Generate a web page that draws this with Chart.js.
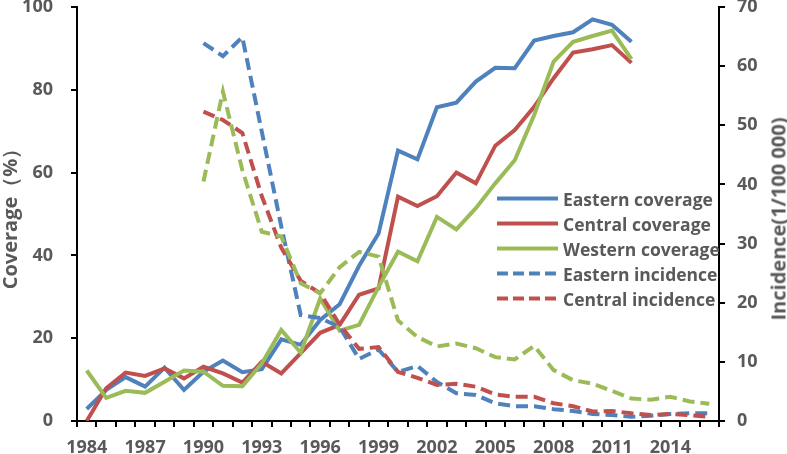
<!DOCTYPE html>
<html>
<head>
<meta charset="utf-8">
<script src="https://cdn.jsdelivr.net/npm/chart.js@4/dist/chart.umd.min.js"></script>
<style>
  body { margin: 0; background: #fff; }
  #wrap { position: relative; width: 787px; height: 454px; }
  #legend { position: absolute; left: 497px; top: 186px; font: 700 17.5px "Open Sans"; color: #595959; }
  .row { display: flex; align-items: center; height: 25px; white-space: nowrap; }
  .row svg { margin-right: 5px; }
  #rightTitle { position: absolute; left: 778px; top: 219px; transform: translate(-50%, -50%) rotate(-90deg);
    font: 700 20px "Open Sans"; color: #595959; white-space: nowrap; }
</style>
</head>
<body>
<div id="wrap">
  <canvas id="myChart" width="787" height="454"></canvas>
  <div id="legend"></div>
  <div id="rightTitle">Incidence(1/100 000)</div>
</div>
<script>
// Data
const years = [];
for (let y = 1984; y <= 2016; y++) years.push(String(y));

// coverage (%), 1984-2012
const easternCoverage = [2.9, 7.5, 10.6, 8.3, 12.9, 7.5, 11.9, 14.6, 11.8, 12.5, 19.7, 18.4, 24.4, 28.2, 37.5, 45.3,
  65.3, 63.2, 75.8, 76.9, 82.0, 85.3, 85.2, 91.9, 93.0, 93.9, 97.0, 95.7, 91.6];
const centralCoverage = [0, 7.9, 11.7, 10.9, 12.7, 10.3, 13.1, 11.5, 9.3, 14.3, 11.5, 16.4, 21.3, 23.2, 30.5, 32.0,
  54.2, 51.9, 54.3, 60.0, 57.4, 66.5, 70.3, 75.9, 82.8, 89.0, 89.8, 90.8, 86.5];
const westernCoverage = [12.2, 5.6, 7.3, 6.8, 9.5, 12.2, 11.9, 8.5, 8.4, 13.9, 22.0, 16.5, 29.6, 21.8, 23.2, 32.4,
  40.9, 38.6, 49.3, 46.3, 51.4, 57.4, 63.0, 73.9, 86.8, 91.6, 93.0, 94.3, 87.4];

// incidence (1/100 000), 1990-2016
const easternIncidence = [63.9, 61.7, 64.9, 48.9, 32.9, 17.9, 17.4, 15.9, 10.5, 12.1, 8.3, 9.3, 6.6, 4.7, 4.4, 3.0,
  2.5, 2.5, 2.0, 1.7, 1.2, 1.0, 0.7, 0.9, 1.2, 1.3, 1.3];
const centralIncidence = [52.3, 50.9, 48.7, 38.0, 29.3, 23.7, 21.6, 16.3, 12.2, 12.5, 8.3, 7.3, 6.1, 6.3, 5.8, 4.5,
  4.1, 4.1, 3.0, 2.5, 1.6, 1.7, 1.3, 1.0, 1.2, 1.0, 0.7];
const westernIncidence = [40.5, 55.7, 42.4, 32.0, 31.2, 23.3, 21.6, 26.0, 28.6, 27.8, 17.0, 14.2, 12.6, 13.1, 12.3, 10.8,
  10.4, 12.7, 8.6, 6.9, 6.3, 5.1, 3.8, 3.6, 4.1, 3.3, 2.9];

const blue = '#4F81BD', red = '#C0504D', green = '#9BBB59';
const textColor = '#595959';
const dash = [12, 6];

// pad a series out to the full year range
const fromYear = (start, arr) => years.map(y => {
  const i = Number(y) - start;
  return i >= 0 && i < arr.length ? arr[i] : null;
});

const series = [
  { label: 'Eastern coverage', data: fromYear(1984, easternCoverage), color: blue, axis: 'y', dashed: false, legend: true },
  { label: 'Central coverage', data: fromYear(1984, centralCoverage), color: red, axis: 'y', dashed: false, legend: true },
  { label: 'Western coverage', data: fromYear(1984, westernCoverage), color: green, axis: 'y', dashed: false, legend: true },
  { label: 'Eastern incidence', data: fromYear(1990, easternIncidence), color: blue, axis: 'y2', dashed: true, legend: true },
  { label: 'Central incidence', data: fromYear(1990, centralIncidence), color: red, axis: 'y2', dashed: true, legend: true },
  { label: 'Western incidence', data: fromYear(1990, westernIncidence), color: green, axis: 'y2', dashed: true, legend: false }
];

const datasets = series.map((s, i) => ({
  label: s.label,
  data: s.data,
  yAxisID: s.axis,
  borderColor: s.color,
  backgroundColor: s.color,
  borderWidth: 4,
  borderDash: s.dashed ? dash : [],
  pointRadius: 0,
  tension: 0,
  spanGaps: false,
  order: series.length - i
}));

const tickFont = { family: 'Open Sans', size: 18, weight: '700' };

// fixed plot box: left axis at x=77, right axis at x=719, bottom at y=421, top at y=7
const fixY = width => s => { s.width = width; s.paddingTop = 0; s.paddingBottom = 0; };

const ctx = document.getElementById('myChart').getContext('2d');
const chart = new Chart(ctx, {
  type: 'line',
  data: { labels: years, datasets: datasets },
  options: {
    responsive: false,
    animation: false,
    layout: { padding: { top: 7, left: 0, right: 0, bottom: 0 } },
    plugins: { legend: { display: false }, tooltip: { enabled: false } },
    scales: {
      x: {
        offset: true,
        afterFit: s => { s.height = 33; s.paddingLeft = 0; s.paddingRight = 0; },
        grid: { offset: true, drawOnChartArea: false, tickLength: 6, color: '#000', lineWidth: 2 },
        border: { color: '#000', width: 2 },
        ticks: {
          autoSkip: false, maxRotation: 0, padding: 10, color: textColor, font: tickFont,
          callback: (v, i) => (i % 3 === 0 ? years[i] : '')
        }
      },
      y: {
        position: 'left',
        min: 0, max: 100,
        afterFit: fixY(77),
        grid: { drawOnChartArea: false, tickLength: 6, color: '#000', lineWidth: 2 },
        border: { color: '#000', width: 2 },
        ticks: { stepSize: 20, padding: 18, color: textColor, font: tickFont },
        title: {
          display: true, text: 'Coverage（%）', color: textColor,
          font: { family: 'Open Sans', size: 20, weight: '700', lineHeight: 1.1 }, padding: 0
        }
      },
      y2: {
        position: 'right',
        min: 0, max: 70,
        afterFit: fixY(68),
        grid: { drawOnChartArea: false, tickLength: 6, color: '#000', lineWidth: 2 },
        border: { color: '#000', width: 2 },
        ticks: { stepSize: 10, padding: 12, color: textColor, font: tickFont }
      }
    }
  }
});

// legend built from the same series list (western incidence is not listed in the original)
const legend = document.getElementById('legend');
series.filter(s => s.legend).forEach(s => {
  const row = document.createElement('div');
  row.className = 'row';
  row.innerHTML = '<svg width="61" height="25"><line x1="0" y1="12.5" x2="61" y2="12.5" stroke="' + s.color +
    '" stroke-width="4"' + (s.dashed ? ' stroke-dasharray="11,5"' : '') + '/></svg><span>' + s.label + '</span>';
  legend.appendChild(row);
});
</script>
</body>
</html>
